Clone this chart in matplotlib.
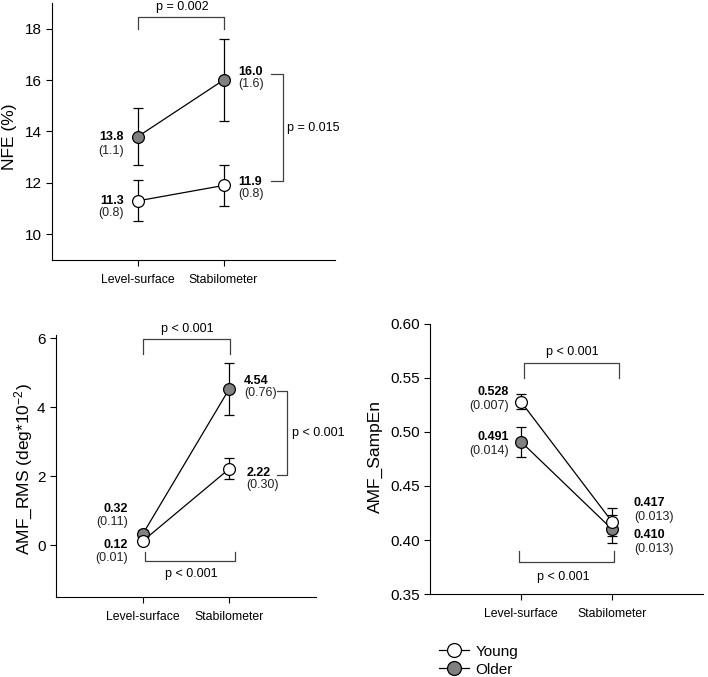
import numpy as np
import matplotlib
matplotlib.use('Agg')
from matplotlib import pyplot as plt
from matplotlib.lines import Line2D

plt.rcParams['font.family'] = ['Liberation Sans', 'DejaVu Sans']
plt.rcParams['mathtext.default'] = 'regular'

conditions = ['Level-surface', 'Stabilometer']

nfe_young = [11.3, 11.9]
nfe_young_sd = [0.8, 0.8]
nfe_older = [13.8, 16.0]
nfe_older_sd = [1.1, 1.6]

rms_young = [0.12, 2.22]
rms_young_sd = [0.01, 0.30]
rms_older = [0.32, 4.54]
rms_older_sd = [0.11, 0.76]

samp_young = [0.528, 0.417]
samp_young_sd = [0.007, 0.013]
samp_older = [0.491, 0.410]
samp_older_sd = [0.014, 0.013]

GRAY = '#808080'
BR = '#404040'
x = np.array([1, 2])


def draw_groups(ax, young, ysd, older, osd):
    for vals, sd, fc in [(older, osd, GRAY), (young, ysd, 'white')]:
        ax.errorbar(x, vals, yerr=sd, color='black', lw=0.9, elinewidth=0.9,
                    capsize=3.5, capthick=0.9, marker='o', ms=8.5,
                    mfc=fc, mec='black', mew=0.9, zorder=3)


def value_label(ax, xp, yb, ys, val, sd, fmt, ha):
    ax.text(xp, yb, fmt.format(val), ha=ha, va='center', fontsize=9,
            fontweight='bold')
    ax.text(xp, ys, '(' + fmt.format(sd) + ')', ha=ha, va='center', fontsize=9,
            color='#222222')


def style(ax, ylabel, xlim, ylim, yticks, fmt=None):
    ax.set_xlim(*xlim)
    ax.set_ylim(*ylim)
    ax.set_xticks(x)
    ax.set_xticklabels(conditions, fontsize=8.8)
    ax.set_yticks(yticks)
    if fmt:
        ax.set_yticklabels([fmt.format(t) for t in yticks])
    ax.tick_params(axis='y', labelsize=11, direction='out', length=4)
    ax.tick_params(axis='x', direction='out', length=4, pad=6)
    for s in ['top', 'right']:
        ax.spines[s].set_visible(False)
    ax.set_ylabel(ylabel, fontsize=12.5)


def hbracket(ax, x0, x1, yh, yend, txt, ty, tx):
    ax.plot([x0, x0, x1, x1], [yend, yh, yh, yend], color=BR, lw=0.9, clip_on=False)
    ax.text(tx, ty, txt, ha='center', va='center', fontsize=9, clip_on=False)


def vbracket(ax, x0, x1, ytop, ybot, txt, tx):
    ax.plot([x0, x1, x1, x0], [ytop, ytop, ybot, ybot], color=BR, lw=0.9, clip_on=False)
    ax.text(tx, (ytop + ybot) / 2, txt, ha='left', va='center', fontsize=9)


fig = plt.figure(figsize=(7.08, 6.77), dpi=100)

# NFE
ax1 = fig.add_axes([52 / 708, 1 - 260 / 677, 283 / 708, 257 / 677])
draw_groups(ax1, nfe_young, nfe_young_sd, nfe_older, nfe_older_sd)
style(ax1, 'NFE (%)', (0, 3.3), (9, 19), [10, 12, 14, 16, 18])
value_label(ax1, 0.84, 13.8, 13.26, nfe_older[0], nfe_older_sd[0], '{:.1f}', 'right')
value_label(ax1, 0.84, 11.3, 10.83, nfe_young[0], nfe_young_sd[0], '{:.1f}', 'right')
value_label(ax1, 2.17, 16.33, 15.83, nfe_older[1], nfe_older_sd[1], '{:.1f}', 'left')
value_label(ax1, 2.17, 12.04, 11.57, nfe_young[1], nfe_young_sd[1], '{:.1f}', 'left')
hbracket(ax1, 1, 2, 18.45, 18.0, 'p = 0.002', 18.85, 1.52)
vbracket(ax1, 2.55, 2.69, 16.23, 12.08, 'p = 0.015', 2.74)
ax1.yaxis.set_label_coords(-0.124, 0.48)

# AMF_RMS
ax2 = fig.add_axes([56 / 708, 1 - 597 / 677, 260 / 708, 262 / 677])
draw_groups(ax2, rms_young, rms_young_sd, rms_older, rms_older_sd)
style(ax2, 'AMF_RMS (deg*10$^{-2}$)', (0, 3), (-1.5, 6.1), [0, 2, 4, 6])
value_label(ax2, 0.83, 1.04, 0.67, rms_older[0], rms_older_sd[0], '{:.2f}', 'right')
value_label(ax2, 0.83, 0.0, -0.38, rms_young[0], rms_young_sd[0], '{:.2f}', 'right')
value_label(ax2, 2.17, 4.78, 4.43, rms_older[1], rms_older_sd[1], '{:.2f}', 'left')
value_label(ax2, 2.2, 2.09, 1.74, rms_young[1], rms_young_sd[1], '{:.2f}', 'left')
hbracket(ax2, 1, 2.01, 5.97, 5.55, 'p < 0.001', 6.26, 1.52)
vbracket(ax2, 2.55, 2.66, 4.49, 2.03, 'p < 0.001', 2.72)
hbracket(ax2, 1.03, 2.07, -0.46, -0.2, 'p < 0.001', -0.84, 1.56)
ax2.yaxis.set_label_coords(-0.08, 0.49)

# AMF_SampEn
ax3 = fig.add_axes([430 / 708, 1 - 594 / 677, 273 / 708, 270 / 677])
draw_groups(ax3, samp_young, samp_young_sd, samp_older, samp_older_sd)
style(ax3, 'AMF_SampEn', (0, 3), (0.35, 0.6),
      [0.35, 0.40, 0.45, 0.50, 0.55, 0.60], '{:.2f}')
value_label(ax3, 0.87, 0.537, 0.524, samp_young[0], samp_young_sd[0], '{:.3f}', 'right')
value_label(ax3, 0.87, 0.495, 0.482, samp_older[0], samp_older_sd[0], '{:.3f}', 'right')
value_label(ax3, 2.24, 0.434, 0.421, samp_young[1], samp_young_sd[1], '{:.3f}', 'left')
value_label(ax3, 2.24, 0.405, 0.392, samp_older[1], samp_older_sd[1], '{:.3f}', 'left')
hbracket(ax3, 1.03, 2.08, 0.564, 0.55, 'p < 0.001', 0.574, 1.56)
hbracket(ax3, 0.98, 2.02, 0.380, 0.390, 'p < 0.001', 0.366, 1.47)
ax3.yaxis.set_label_coords(-0.172, 0.51)

handles = [Line2D([], [], color='black', lw=0.9, marker='o', ms=10, mfc='white',
                  mec='black', mew=0.9),
           Line2D([], [], color='black', lw=0.9, marker='o', ms=10, mfc=GRAY,
                  mec='black', mew=0.9)]
fig.legend(handles, ['Young', 'Older'], loc='upper left',
           bbox_to_anchor=(428 / 708, 1 - 634 / 677), frameon=False,
           fontsize=11, handlelength=2.0, handletextpad=0.4, labelspacing=0.25,
           borderpad=0.2)

fig.savefig('out.png', dpi=100)
